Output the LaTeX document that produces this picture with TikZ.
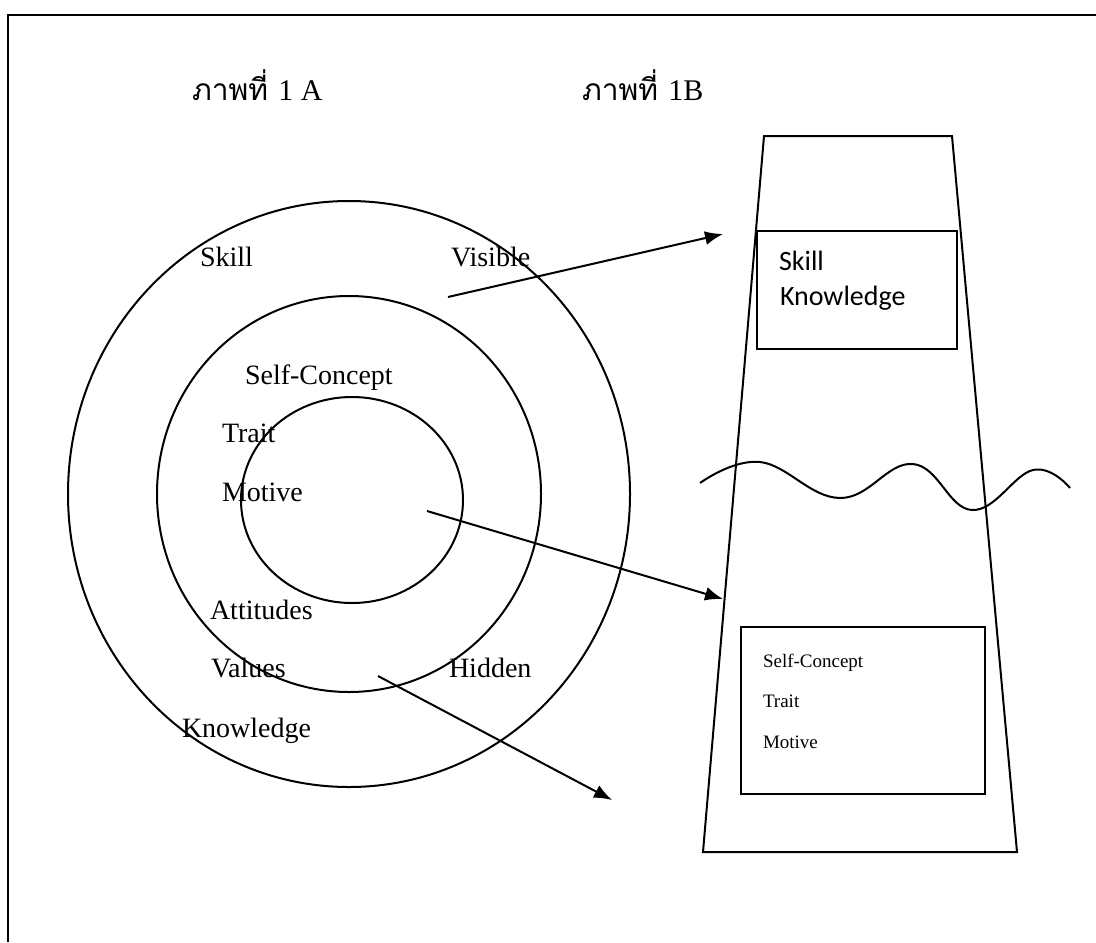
\documentclass[tikz,border=0pt]{standalone}
\usepackage{fontspec}
\setmainfont{Liberation Serif}
\newfontfamily\thaifont[Script=Thai]{Loma}
\newfontfamily\calfont{Carlito}
\usetikzlibrary{arrows.meta}

\tikzset{
  lbl/.style={anchor=base west, inner sep=0pt, font=\fontsize{14}{17}\selectfont},
  thailbl/.style={anchor=base west, inner sep=0pt, font=\thaifont\fontsize{15}{18}\selectfont},
  sanslbl/.style={anchor=base west, inner sep=0pt, font=\calfont\fontsize{14}{17}\selectfont},
  smalllbl/.style={anchor=base west, inner sep=0pt, font=\fontsize{9.5}{11}\selectfont},
  link/.style={-{Latex[length=9pt,width=7pt]}},
}

\begin{document}
\begin{tikzpicture}[x=0.5pt, y=-0.5pt, line width=1pt]
            \useasboundingbox (0,0) rectangle (1096,942);
            \draw (1096,15) -- (8,15) -- (8,942);

            % titles
            \node[thailbl] (titleA) at (191,100) {ภาพที่ \textrm{1 A}};
            \node[thailbl] (titleB) at (581,100) {ภาพที่ \textrm{1B}};

            % 1A: rings
            \coordinate (O) at (349,494);
            \draw (O) ellipse [x radius=281, y radius=293];
            \draw (O) ellipse [x radius=192, y radius=198];
            \draw (352,500) ellipse [x radius=111, y radius=103];

            \node[lbl] (skill) at (199,266) {Skill};
            \node[lbl] (visible) at (450,266) {Visible};
            \node[lbl] (self) at (244,384) {Self-Concept};
            \node[lbl] (trait) at (221,442) {Trait};
            \node[lbl] (motive) at (221,501) {Motive};
            \node[lbl] (attitudes) at (209,619) {Attitudes};
            \node[lbl] (values) at (210,677) {Values};
            \node[lbl] (knowledge) at (181,737) {Knowledge};
            \node[lbl] (hidden) at (448,677) {Hidden};

            % 1B: iceberg
            \coordinate (TL) at (764,136);
            \coordinate (TR) at (952,136);
            \coordinate (BR) at (1017,852);
            \coordinate (BL) at (703,852);
            \draw (TL) -- (TR) -- (BR) -- (BL) -- cycle;

            \draw (757,231) rectangle (957,349);
            \node[sanslbl] (skillB) at (778,270) {Skill};
            \node[sanslbl] (knowB) at (779,305) {Knowledge};

            \draw plot[smooth, tension=0.7] coordinates {(700,483) (760,462) (840,498) (913,464) (972,510) (1033,470) (1070,488)};

            \draw (741,627) rectangle (985,794);
            \node[smalllbl] (selfB) at (762,667) {Self-Concept};
            \node[smalllbl] (traitB) at (762,707) {Trait};
            \node[smalllbl] (motiveB) at (762,748) {Motive};

            % arrows
            \coordinate (visS) at (448,297);
            \coordinate (visE) at (723,234);
            \coordinate (motS) at (427,511);
            \coordinate (motE) at (723,599);
            \coordinate (valS) at (378,676);
            \coordinate (valE) at (612,800);
            \draw[link] (visS) -- (visE);
            \draw[link] (motS) -- (motE);
            \draw[link] (valS) -- (valE);
        \end{tikzpicture}
\end{document}
